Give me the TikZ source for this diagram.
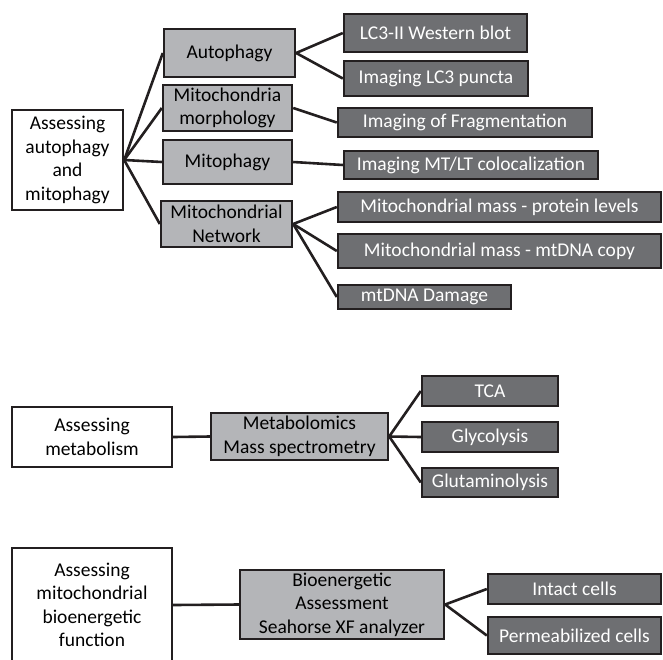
\documentclass[tikz,border=0pt]{standalone}
\usepackage{fontspec}
\setmainfont{Carlito}
\definecolor{catgray}{RGB}{180,181,184}
\definecolor{leafgray}{RGB}{110,111,114}
\definecolor{inkline}{RGB}{35,31,32}
\begin{document}
\begin{tikzpicture}
[x=1pt,y=-1pt,line width=2.6pt,draw=inkline,
 every node/.style={rectangle,draw=inkline,line width=2.4pt,inner sep=0pt,align=center,font=\fontsize{19.5}{23.5}\selectfont},
 rootbox/.style={fill=white},
 catbox/.style={fill=catgray},
 leafbox/.style={fill=leafgray,text=white}]
   \useasboundingbox (0,0) rectangle (663,659);
   % autophagy and mitophagy
   \node[rootbox,minimum width=111pt,minimum height=100pt] (root_1) at (67.5,160) {Assessing\\autophagy\\and\\mitophagy};
   \node[catbox,minimum width=131pt,minimum height=48pt] (autoph) at (229.5,53) {Autophagy};
   \node[catbox,minimum width=129pt,minimum height=46pt] (morph) at (227.5,108) {Mitochondria\\morphology};
   \node[catbox,minimum width=129pt,minimum height=44pt] (mitoph) at (227.5,162) {Mitophagy};
   \node[catbox,minimum width=131pt,minimum height=46pt] (network) at (226.5,224) {Mitochondrial\\Network};
   \node[leafbox,minimum width=183pt,minimum height=38pt] (blot) at (435.5,33) {LC3-II Western blot};
   \node[leafbox,minimum width=184pt,minimum height=35pt] (puncta) at (436,78.5) {Imaging LC3 puncta};
   \node[leafbox,minimum width=254pt,minimum height=29pt] (frag) at (465,122.5) {Imaging of Fragmentation};
   \node[leafbox,minimum width=254pt,minimum height=28pt] (coloc) at (471,165) {Imaging MT/LT colocalization};
   \node[leafbox,minimum width=323pt,minimum height=30pt] (protein) at (499.5,207) {Mitochondrial mass - protein levels};
   \node[leafbox,minimum width=323pt,minimum height=34pt] (copy) at (499.5,251) {Mitochondrial mass - mtDNA copy};
   \node[leafbox,minimum width=173pt,minimum height=24pt] (damage) at (424.5,297) {mtDNA Damage};
   % metabolism
   \node[rootbox,minimum width=160pt,minimum height=60pt] (root_2) at (92,437) {Assessing\\metabolism};
   \node[catbox,minimum width=177pt,minimum height=47pt] (metab) at (299.5,436.5) {Metabolomics\\Mass spectrometry};
   \node[leafbox,minimum width=136pt,minimum height=30pt] (tca) at (490,391) {TCA};
   \node[leafbox,minimum width=136pt,minimum height=30pt] (glyc) at (490,437) {Glycolysis};
   \node[leafbox,minimum width=136pt,minimum height=29pt] (glut) at (490,482.5) {Glutaminolysis};
   % bioenergetics
   \node[rootbox,minimum width=160pt,minimum height=114pt] (root_3) at (92,605) {Assessing\\mitochondrial\\bioenergetic\\function};
   \node[catbox,minimum width=204pt,minimum height=69pt] (bioen) at (342,604.5) {Bioenergetic\\Assessment\\Seahorse XF analyzer};
   \node[leafbox,minimum width=173pt,minimum height=30pt] (intact) at (574.5,589) {Intact cells};
   \node[leafbox,minimum width=173pt,minimum height=37pt] (perm) at (574.5,635.5) {Permeabilized cells};

   \path[-,draw]
   (root_1.east) edge (autoph.west)
   (root_1.east) edge (morph.west)
   (root_1.east) edge (mitoph.west)
   (root_1.east) edge (network.west)
   (autoph.east) edge (blot.west)
   (autoph.east) edge (puncta.west)
   (morph.east) edge (frag.west)
   (mitoph.east) edge (coloc.west)
   (network.east) edge (protein.west)
   (network.east) edge (copy.west)
   (network.east) edge (damage.west)
   (root_2.east) edge (metab.west)
   (metab.east) edge (tca.west)
   (metab.east) edge (glyc.west)
   (metab.east) edge (glut.west)
   (root_3.east) edge (bioen.west)
   (bioen.east) edge (intact.west)
   (bioen.east) edge (perm.west);
\end{tikzpicture}
\end{document}
